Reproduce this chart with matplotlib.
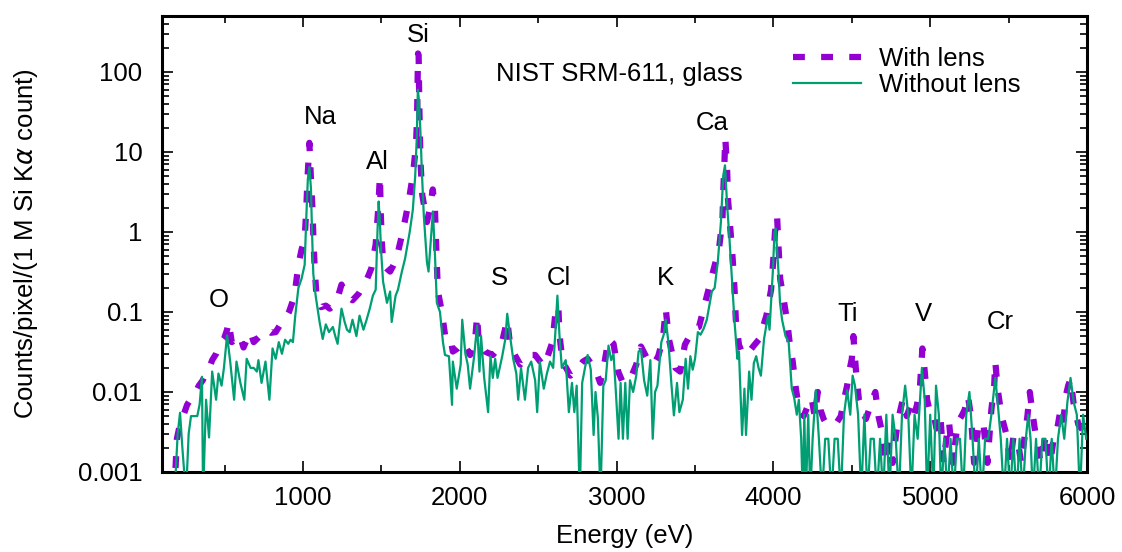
import matplotlib
matplotlib.use("Agg")
import matplotlib.pyplot as plt
from matplotlib.ticker import LogLocator, NullFormatter, FixedLocator

plt.rcParams['font.family'] = ['Liberation Sans', 'DejaVu Sans']

# ---------------- data ----------------
energy_without = [165,185,200,215,230,253,270,285,305,325,340,355,362,381,400,420,445,460,480,495,
    515,535,560,575,600,625,640,665,685,705,715,735,760,785,805,825,845,865,885,905,920,935,950,970,990,
    1010,1020,1030,1040,1050,1057,1065,1080,1105,1125,1145,1165,1190,1205,1220,1245,1265,1280,1297,1315,
    1340,1360,1385,1405,1425,1445,1463,1475,1482,1490,1497,1510,1535,1555,1565,1590,1605,1630,1650,1680,
    1700,1715,1725,1732,1740,1750,1757,1770,1790,1800,1815,1828,1841,1853,1873,1892,1905,1930,1950,1955,
    1980,2005,2015,2035,2050,2065,2090,2110,2125,2135,2155,2180,2195,2210,2225,2240,2270,2290,2302,2320,
    2340,2360,2372,2390,2415,2435,2455,2480,2493,2510,2535,2555,2575,2595,2610,2622,2635,2650,2675,2695,
    2715,2730,2745,2765,2780,2800,2815,2835,2853,2865,2880,2897,2915,2930,2948,2965,2980,2995,3012,3025,
    3040,3055,3070,3085,3105,3125,3140,3155,3175,3195,3215,3230,3245,3260,3285,3300,3313,3330,3350,3365,
    3385,3400,3422,3440,3455,3470,3485,3500,3518,3535,3555,3575,3607,3625,3645,3665,3680,3691,3705,3718,
    3742,3752,3770,3780,3800,3815,3825,3845,3860,3875,3890,3905,3920,3940,3950,3965,3975,3996,4007,4015,
    4032,4042,4055,4077,4097,4117,4132,4149,4162,4177,4187,4197,4207,4222,
    4235,4250,4270,4290,4310,4330,4350,4370,4390,4410,4430,4450,4470,4490,4505,4520,4540,4560,4580,4600,
    4620,4640,4660,4680,4700,4720,4740,4760,4780,4800,4820,4840,4860,4880,4900,4920,4947,4965,4980,5000,
    5020,5037,5055,5070,5090,5110,5130,5150,5170,5190,5210,5230,5250,5270,5290,5310,5330,5350,5370,5390,
    5415,5430,5450,5470,5490,5510,5530,5550,5570,5590,5610,5625,5640,5655,5675,5695,5715,5735,5755,5775,
    5795,5815,5835,5855,5875,5895,5915,5935,5955,5975,5995]
counts_without = [0.0005,0.0008,0.003,0.0055,0.002,0.0005,0.003,0.005,0.005,0.005,0.007,0.0155,0.0005,0.008,0.0027,0.018,0.008,0.017,0.012,0.02,
    0.051,0.024,0.008,0.024,0.013,0.008,0.026,0.02,0.02,0.018,0.025,0.013,0.024,0.008,0.035,0.026,0.042,0.03,0.045,0.04,0.045,0.042,0.09,0.2,0.26,
    0.39,1.45,4.5,6.5,3.5,1.0,0.3,0.16,0.075,0.046,0.07,0.056,0.065,0.05,0.04,0.11,0.075,0.06,0.056,0.08,
    0.05,0.09,0.06,0.08,0.11,0.16,0.19,1.1,2.4,1.3,0.6,0.24,0.13,0.18,0.075,0.16,0.19,0.32,0.46,1.0,
    1.9,5.0,15.0,60.0,42.0,15.0,6.0,1.6,0.42,0.32,0.82,1.8,0.52,0.13,0.1,0.042,0.029,0.028,0.0069,0.024,
    0.011,0.022,0.08,0.03,0.022,0.011,0.027,0.068,0.018,0.05,0.015,0.0056,0.028,0.015,0.026,0.015,0.028,0.046,0.095,0.05,
    0.026,0.017,0.008,0.02,0.008,0.02,0.024,0.014,0.0056,0.024,0.011,0.017,0.024,0.02,0.06,0.16,0.052,0.02,0.025,0.0056,
    0.013,0.0056,0.012,0.0005,0.013,0.021,0.029,0.019,0.0029,0.01,0.0048,0.0005,0.012,0.014,0.038,0.025,0.03,0.01,0.0026,0.013,
    0.0026,0.013,0.0026,0.014,0.01,0.016,0.032,0.034,0.014,0.009,0.025,0.0026,0.01,0.012,0.042,0.052,0.08,0.042,0.012,0.0051,
    0.013,0.0056,0.008,0.026,0.011,0.028,0.019,0.026,0.056,0.052,0.062,0.08,0.18,0.2,0.42,1.33,5.1,6.8,2.1,0.92,
    0.16,0.075,0.026,0.032,0.0029,0.011,0.0029,0.018,0.008,0.023,0.028,0.02,0.016,0.046,0.06,0.09,0.06,0.32,1.0,1.1,
    0.32,0.13,0.08,0.05,0.042,0.011,0.0085,0.0052,0.008,0.0026,0.0005,0.0052,0.0005,0.0052,
    0.0005,0.0026,0.0105,0.0026,0.0005,0.0026,0.0026,0.0005,0.0026,0.0026,0.0005,0.0052,0.0105,0.0052,0.016,0.012,0.0052,0.0005,0.0052,0.0005,
    0.0026,0.0026,0.0005,0.0026,0.0005,0.0052,0.0005,0.0052,0.0026,0.0005,0.0052,0.012,0.0052,0.0005,0.0052,0.0026,0.02,0.008,0.0005,0.0052,
    0.0005,0.012,0.0052,0.0005,0.0026,0.0005,0.0026,0.0005,0.0026,0.0026,0.0005,0.0052,0.01,0.0026,0.0005,0.0026,0.0005,0.0026,0.0026,0.0052,
    0.015,0.0075,0.0026,0.0005,0.0026,0.0005,0.0026,0.0005,0.0026,0.0005,0.0026,0.0052,0.0026,0.0005,0.0026,0.0005,0.0026,0.0026,0.0005,0.0026,
    0.0005,0.0026,0.0052,0.0026,0.0075,0.015,0.0075,0.0052,0.0005,0.0052,0.0026]

energy_with = [175,187,195,215,235,260,280,300,315,335,360,380,400,420,445,470,495,515,525,545,
    565,585,605,620,640,665,685,715,745,770,795,825,855,885,910,930,945,970,990,1010,
    1020,1028,1040,1050,1060,1065,1073,1085,1115,1145,1170,1195,1220,1245,1275,1315,1355,1405,1435,1463,
    1478,1490,1495,1502,1512,1533,1555,1575,1595,1635,1670,1700,1720,1727,1733,1737,1741,1745,1750,1760,
    1790,1810,1827,1841,1847,1853,1860,1885,1905,1937,1955,1985,2020,2065,2095,2110,2120,2160,2210,2265,
    2302,2320,2355,2385,2435,2480,2535,2565,2590,2610,2628,2635,2655,2705,2745,2785,2815,2865,2895,2925,
    2948,2980,3010,3040,3090,3125,3155,3195,3235,3265,3295,3313,3333,3375,3405,3435,3465,3493,3525,3570,
    3615,3653,3675,3680,3687,3693,3705,3710,3725,3740,3752,3760,3780,3805,3845,3875,3910,3955,3985,3998,
    4010,4023,4033,4043,4066,4088,4103,4123,4143,4163,4193,4223,4243,4263,4283,4300,4320,4340,4360,4380,
    4405,4430,4450,4470,4485,4500,4510,4525,4545,4565,4590,4610,4630,4650,4670,4695,4715,4735,4760,4790,
    4810,4825,4850,4875,4895,4915,4935,4950,4965,4980,5000,5020,5040,5065,5085,5110,5120,5145,5175,5200,
    5220,5240,5260,5280,5310,5340,5365,5390,5408,5415,5430,5455,5485,5510,5530,5555,5580,5605,5620,5635,
    5655,5675,5705,5740,5765,5785,5805,5832,5850,5865,5880,5895,5915,5945,5970,5995]
counts_with = [0.0005,0.0012,0.0026,0.004,0.005,0.0069,0.008,0.0092,0.01,0.012,0.014,0.017,0.0195,0.025,0.03,0.04,0.046,0.06,0.075,0.042,
    0.045,0.052,0.045,0.036,0.045,0.056,0.042,0.048,0.055,0.06,0.055,0.056,0.07,0.08,0.1,0.13,0.16,0.39,0.6,0.82,
    1.9,4.6,13.0,4.6,1.9,0.92,0.39,0.16,0.115,0.12,0.11,0.12,0.15,0.22,0.16,0.14,0.17,0.25,0.35,0.7,
    1.8,5.0,1.8,0.75,0.39,0.35,0.32,0.38,0.46,1.0,2.2,5.1,12.0,28.0,170.0,160.0,40.0,16.0,6.8,2.9,
    1.33,2.0,3.4,1.9,0.82,0.39,0.18,0.1,0.052,0.052,0.032,0.035,0.042,0.029,0.04,0.09,0.042,0.032,0.029,0.039,
    0.08,0.039,0.028,0.022,0.029,0.029,0.021,0.03,0.042,0.1,0.12,0.052,0.024,0.016,0.019,0.024,0.026,0.019,0.013,0.025,
    0.046,0.04,0.018,0.013,0.015,0.022,0.037,0.026,0.022,0.028,0.046,0.11,0.046,0.02,0.018,0.039,0.05,0.062,0.065,0.145,
    0.32,0.62,1.45,3.2,7.0,15.0,5.6,2.6,1.1,0.46,0.19,0.08,0.039,0.029,0.032,0.038,0.046,0.09,0.19,0.42,
    1.0,1.6,0.62,0.26,0.14,0.075,0.042,0.024,0.011,0.0062,0.005,0.007,0.0085,0.005,0.01,0.006,0.0046,0.0039,0.0039,0.0042,
    0.0042,0.005,0.008,0.012,0.0187,0.026,0.05,0.02,0.008,0.006,0.0046,0.006,0.008,0.01,0.005,0.003,0.0013,0.0024,0.0013,0.0039,
    0.006,0.008,0.005,0.0068,0.005,0.0068,0.012,0.035,0.018,0.008,0.0054,0.0054,0.0035,0.005,0.0013,0.0034,0.0042,0.0013,0.0042,0.005,
    0.006,0.009,0.005,0.0013,0.0042,0.0039,0.0013,0.006,0.012,0.024,0.011,0.005,0.003,0.0013,0.0027,0.0027,0.0013,0.003,0.005,0.01,
    0.005,0.0027,0.0013,0.003,0.0013,0.0024,0.003,0.0062,0.0045,0.009,0.012,0.0145,0.0071,0.0039,0.0034,0.0027]

element_labels = ['O', 'Na', 'Al', 'Si', 'S', 'Cl', 'K', 'Ca', 'Ti', 'V', 'Cr']
label_energy = [462, 1107, 1477, 1732, 2255, 2632, 3308, 3608, 4476, 4954, 5446]
label_counts = [0.141, 27.4, 7.5, 290, 0.266, 0.266, 0.266, 23, 0.094, 0.094, 0.075]

x_ticks = [1000, 2000, 3000, 4000, 5000, 6000]
y_ticks = [0.001, 0.01, 0.1, 1, 10, 100]
y_ticklabels = ['0.001', '0.01', '0.1', '1', '10', '100']

# ---------------- figure ----------------
FS = 18.5
fig = plt.figure(figsize=(11.22, 5.52), dpi=100)
ax = fig.add_axes([162/1122, 80/552, 925/1122, 456/552])

purple = '#9400d3'
green = '#009e73'
l1, = ax.plot(energy_with, counts_with, color=purple, lw=4.5, dashes=(1.9, 2.6),
              dash_capstyle='butt', solid_joinstyle='miter', label='With lens', zorder=2)
l2, = ax.plot(energy_without, counts_without, color=green, lw=1.6, label='Without lens', zorder=3)

ax.set_yscale('log')
ax.set_xlim(100, 6000)
ax.set_ylim(0.001, 500)

ax.xaxis.set_major_locator(FixedLocator(x_ticks))
ax.xaxis.set_minor_locator(FixedLocator([500, 1500, 2500, 3500, 4500, 5500]))
ax.set_xticklabels([str(t) for t in x_ticks])
ax.yaxis.set_major_locator(FixedLocator(y_ticks))
ax.set_yticklabels(y_ticklabels)
ax.yaxis.set_minor_locator(LogLocator(base=10, subs=range(2, 10), numticks=20))
ax.yaxis.set_minor_formatter(NullFormatter())

ax.tick_params(which='both', direction='in', top=True, right=True, labelsize=FS, width=1.2)
ax.tick_params(axis='x', which='both', pad=10)
ax.tick_params(axis='y', which='both', pad=14)
ax.tick_params(which='major', length=8)
ax.tick_params(which='minor', length=5)
for s in ax.spines.values():
    s.set_linewidth(2.2)

ax.set_xlabel('Energy (eV)', fontsize=FS, labelpad=10)
ax.set_ylabel(r'Counts/pixel/(1 M Si K$\alpha$ count)', fontsize=FS, labelpad=27)

for lab, xe, yc in zip(element_labels, label_energy, label_counts):
    ax.text(xe, yc, lab, fontsize=FS, ha='center', va='center', zorder=4)
ax.text(3015, 94, 'NIST SRM-611, glass', fontsize=FS, ha='center', va='center')

leg = ax.legend(handles=[l1, l2], loc='upper left', bbox_to_anchor=(0.682, 0.933),
                frameon=False, fontsize=FS, handlelength=2.65, handletextpad=0.7,
                labelspacing=0.1, borderpad=0, borderaxespad=0)

fig.savefig('out.png', dpi=100)
